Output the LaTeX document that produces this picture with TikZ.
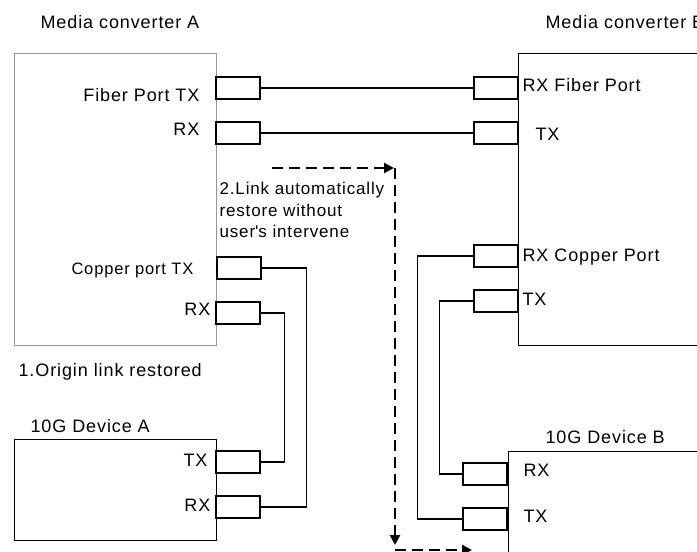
\documentclass[tikz,border=0pt]{standalone}
\usepackage{fontspec}
\setmainfont{Liberation Sans}[LetterSpace=5]
\usetikzlibrary{arrows.meta}
\definecolor{boxgray}{RGB}{150,150,150}
\def\measbox #1;{\useasboundingbox #1;}

\begin{document}
\begin{tikzpicture}[x=1pt,y=-1pt,line width=1.2pt,
    unit/.style={draw,rectangle,anchor=north west,inner sep=0pt},
    port/.style={draw,rectangle,minimum width=44pt,minimum height=22pt,inner sep=0pt},
    lbl/.style={inner sep=0pt,text height=13pt,text depth=0pt,font=\fontsize{18}{21.5}\selectfont},
    dasharrow/.style={line width=2.6pt,dash pattern=on 11pt off 6pt,-{Triangle[length=10pt,width=10pt]}}]
\measbox (0,0) rectangle (697,552);

    % converters and devices
    \node[unit,draw=boxgray,minimum width=202pt,minimum height=292pt] (mca) at (14,53) {};
    \node[unit,minimum width=200pt,minimum height=292pt] (mcb) at (518,53) {};
    \node[unit,minimum width=202pt,minimum height=101pt] (deva) at (14,439) {};
    \node[unit,minimum width=200pt,minimum height=110pt] (devb) at (508,451) {};

    % ports
    \node[port] (aftx) at (238,88) {};
    \node[port] (afrx) at (238,133) {};
    \node[port] (bfrx) at (496,88) {};
    \node[port] (bftx) at (496,133) {};
    \node[port] (actx) at (239,268) {};
    \node[port] (acrx) at (238,313) {};
    \node[port] (datx) at (238,462) {};
    \node[port] (darx) at (238,507) {};
    \node[port] (bcrx) at (496,256) {};
    \node[port] (bctx) at (496,301) {};
    \node[port] (dbrx) at (485,474) {};
    \node[port] (dbtx) at (485,519) {};

    % fibers and copper cables
    \draw (aftx.east) -- (bfrx.west);
    \draw (afrx.east) -- (bftx.west);
    \draw (actx.east) -- ++(45,0) |- (darx.east);
    \draw (acrx.east) -- ++(24,0) |- (datx.east);
    \draw (bcrx.west) -- ++(-56,0) |- (dbtx.west);
    \draw (bctx.west) -- ++(-34,0) |- (dbrx.west);

    % texts
    \node[lbl,anchor=west] (tmca) at (40,21.5) {Media converter A};
    \node[lbl,anchor=west] (tmcb) at (545,21.5) {Media converter B};
    \node[lbl,anchor=east] (tfa) at (200,95) {Fiber Port TX};
    \node[lbl,anchor=east] (tfarx) at (200,128.5) {RX};
    \node[lbl,anchor=east,font=\fontsize{16.5}{21.5}\selectfont] (tca) at (194,268) {Copper port TX};
    \node[lbl,anchor=east] (tcarx) at (211,308.5) {RX};
    \node[lbl,anchor=west] (torig) at (18,370) {1.Origin link restored};
    \node[lbl,anchor=west] (tdeva) at (30,425.5) {10G Device A};
    \node[lbl,anchor=east] (tdatx) at (208,459.5) {TX};
    \node[lbl,anchor=east] (tdarx) at (211,505) {RX};
    \node[lbl,anchor=west] (tfb) at (522,85) {RX Fiber Port};
    \node[lbl,anchor=west] (tfbtx) at (535,133.5) {TX};
    \node[lbl,anchor=west] (tcb) at (522,254.5) {RX Copper Port};
    \node[lbl,anchor=west] (tcbtx) at (522,299) {TX};
    \node[lbl,anchor=west] (tdevb) at (545,437) {10G Device B};
    \node[lbl,anchor=west] (tdbrx) at (523,470) {RX};
    \node[lbl,anchor=west] (tdbtx) at (523,516) {TX};
    \node[inner sep=0pt,anchor=north west,align=left,font=\fontsize{17}{21.5}\selectfont] (tauto) at (219,182)
        {2.Link automatically\\restore without\\user\textquotesingle s intervene};

    % restore path
    \coordinate (p1) at (272,168);
    \coordinate (p2) at (394,168);
    \coordinate (p3) at (395,168);
    \coordinate (p4) at (395,545);
    \coordinate (p5) at (395,550);
    \coordinate (p6) at (472,550);
    \draw[dasharrow] (p1) -- (p2);
    \draw[dasharrow] (p3) -- (p4);
    \draw[dasharrow] (p5) -- (p6);

\end{tikzpicture}
\end{document}
